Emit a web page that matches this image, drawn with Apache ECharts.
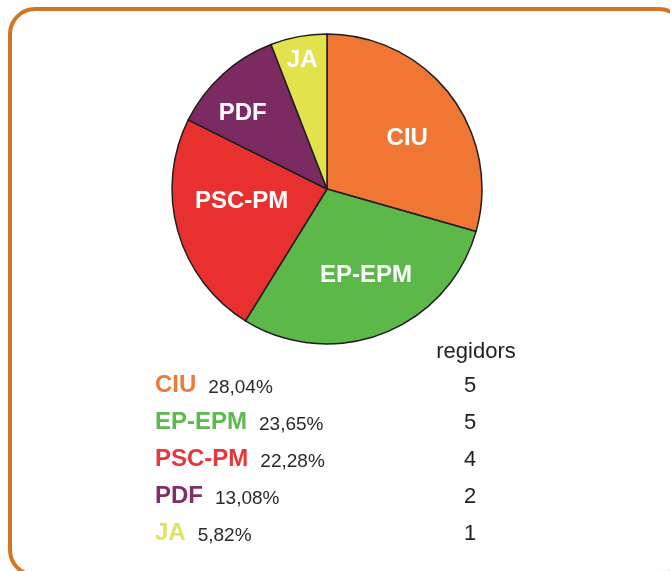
<!DOCTYPE html>
<html>
<head>
<meta charset="utf-8">
<script src="https://cdn.jsdelivr.net/npm/echarts@6/dist/echarts.min.js"></script>
<style>
  html, body { margin: 0; padding: 0; background: #fff; }
  #chart { width: 670px; height: 571px; }
</style>
</head>
<body>
<div id="chart"></div>
<script>
const parties = ['CIU', 'EP-EPM', 'PSC-PM', 'PDF', 'JA']
const votePct = ['28,04%', '23,65%', '22,28%', '13,08%', '5,82%']
const seats = [5, 5, 4, 2, 1]
const seatsTitle = 'regidors'

const sliceColors = ['#f07634', '#5cb848', '#e8312f', '#7b2b62', '#e2e34c']
const nameColors = ['#ec7a3c', '#5dba4c', '#e8373a', '#7e3066', '#e0e35e']
// nudges so the slice labels sit where the original has them
const labelNudge = [[16, -2], [10, 11], [-8, -10], [-30, -16], [-10, -49]]

const font = '"Liberation Sans", Arial, Helvetica, sans-serif'
const chart = echarts.init(document.getElementById('chart'))

const rowY = (i) => 397 + i * 37
const graphics = [
  {
    type: 'rect', silent: true,
    shape: { x: 10, y: 9, width: 674, height: 566, r: 25 },
    style: { fill: 'none', stroke: '#d9731f', lineWidth: 4 }
  },
  {
    type: 'text', silent: true, x: 476, y: 363,
    style: { text: seatsTitle, font: `22px ${font}`, fill: '#222', align: 'center', verticalAlign: 'bottom' }
  }
]
parties.forEach((p, i) => {
  graphics.push({
    type: 'text', silent: true, x: 155, y: rowY(i),
    style: {
      text: `{n|${p}}{p|${votePct[i]}}`,
      verticalAlign: 'bottom',
      rich: {
        n: { font: `bold 24px ${font}`, fill: nameColors[i], lineHeight: 24, verticalAlign: 'bottom', padding: [0, 12, 0, 0] },
        p: { font: `19px ${font}`, fill: '#2a2a2a', lineHeight: 19, verticalAlign: 'bottom' }
      }
    }
  })
  graphics.push({
    type: 'text', silent: true, x: 470, y: rowY(i) - 0.5,
    style: { text: String(seats[i]), font: `22px ${font}`, fill: '#222', align: 'center', verticalAlign: 'bottom' }
  })
})

chart.setOption({
  animation: false,
  graphic: graphics,
  series: [{
    type: 'pie',
    center: [327, 189],
    radius: 155,
    startAngle: 90,
    clockwise: true,
    itemStyle: { borderColor: '#1e1e1e', borderWidth: 1.5 },
    label: {
      position: 'inside',
      color: '#fff',
      fontFamily: font,
      fontWeight: 'bold',
      fontSize: 24,
      formatter: '{b}'
    },
    labelLine: { show: false },
    emphasis: { disabled: true },
    data: parties.map((p, i) => ({
      name: p,
      value: seats[i],
      itemStyle: { color: sliceColors[i] },
      label: { offset: labelNudge[i] }
    }))
  }]
})
</script>
</body>
</html>
